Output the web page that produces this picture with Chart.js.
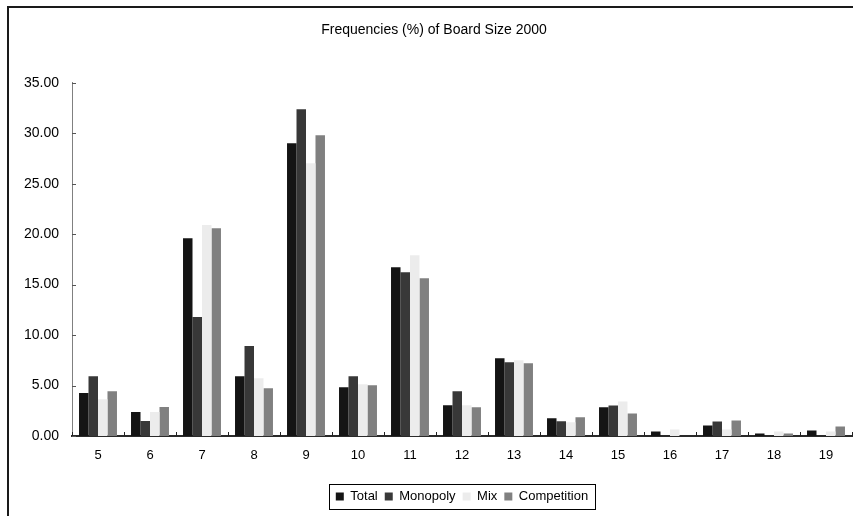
<!DOCTYPE html>
<html>
<head>
<meta charset="utf-8">
<title>Frequencies (%) of Board Size 2000</title>
<script src="https://cdn.jsdelivr.net/npm/chart.js@4/dist/chart.umd.min.js"></script>
<style>
  html, body { margin: 0; padding: 0; background: #ffffff; }
  #wrap { width: 854px; height: 516px; position: relative; }
</style>
</head>
<body>
<div id="wrap"><canvas id="chart" width="854" height="516"></canvas></div>
<script>
// Board sizes (number of directors) on the x axis
const boardSizes = ['5', '6', '7', '8', '9', '10', '11', '12', '13', '14', '15', '16', '17', '18', '19'];

// Frequencies in percent for each group
const totalValues       = [4.26, 2.38, 19.59, 5.92, 29.01, 4.83, 16.72, 3.04, 7.70, 1.75, 2.85, 0.45, 1.04, 0.25, 0.55];
const monopolyValues    = [5.92, 1.49, 11.79, 8.92, 32.38, 5.92, 16.22, 4.43, 7.30, 1.46, 3.02, 0.00, 1.44, 0.00, 0.00];
const mixValues         = [3.64, 2.38, 20.91, 5.72, 27.03, 5.12, 17.91, 3.04, 7.50, 1.36, 3.42, 0.64, 0.64, 0.45, 0.45];
const competitionValues = [4.43, 2.87, 20.58, 4.73, 29.81, 5.02, 15.63, 2.84, 7.20, 1.85, 2.23, 0.00, 1.54, 0.25, 0.94];

// Value-axis ticks
const yTickValues = [0, 5, 10, 15, 20, 25, 30, 35];

const FONT = "'Liberation Sans', Arial, sans-serif";

// Centre the legend under the plot area instead of the whole canvas
const legendUnderPlot = {
  id: 'legendUnderPlot',
  afterLayout(chart) {
    const lg = chart.legend;
    const area = chart.chartArea;
    const dx = Math.round((area.left + area.right) / 2 - (lg.left + lg.right) / 2);
    lg.left += dx;
    lg.right += dx;
  }
};

// Outer frame, inward tick marks and the boxed legend
const decorations = {
  id: 'decorations',
  afterDraw(chart) {
    const ctx = chart.ctx;
    const area = chart.chartArea;
    const x = chart.scales.x;
    const y = chart.scales.y;
    ctx.save();

    // frame: top and left edges
    ctx.strokeStyle = '#1a1a1a';
    ctx.lineWidth = 2;
    ctx.beginPath();
    ctx.moveTo(8, 516);
    ctx.lineTo(8, 7);
    ctx.lineTo(853, 7);
    ctx.stroke();

    // y ticks pointing into the plot
    ctx.strokeStyle = '#555555';
    ctx.lineWidth = 1;
    ctx.beginPath();
    yTickValues.forEach(v => {
      const py = Math.round(y.getPixelForValue(v)) + 0.5;
      ctx.moveTo(area.left, py);
      ctx.lineTo(area.left + 4, py);
    });
    ctx.stroke();

    // x ticks at category boundaries pointing up
    ctx.strokeStyle = '#222222';
    ctx.beginPath();
    const n = boardSizes.length;
    for (let i = 0; i <= n; i++) {
      const px = Math.round(x.getPixelForValue(i - 0.5)) + 0.5;
      ctx.moveTo(px, area.bottom);
      ctx.lineTo(px, area.bottom - 4);
    }
    ctx.stroke();

    // legend border
    const boxes = chart.legend.legendHitBoxes;
    if (boxes && boxes.length) {
      let l = Infinity, r = -Infinity, t = Infinity, b = -Infinity;
      boxes.forEach(h => {
        l = Math.min(l, h.left); r = Math.max(r, h.left + h.width);
        t = Math.min(t, h.top); b = Math.max(b, h.top + h.height);
      });
      ctx.strokeStyle = '#000000';
      ctx.lineWidth = 1;
      ctx.strokeRect(Math.round(l - 7) + 0.5, Math.round(t - 6) + 0.5,
                     Math.round(r - l + 14), Math.round(b - t + 12));
    }
    ctx.restore();
  }
};

const makeSet = (label, data, color) => ({
  label, data,
  backgroundColor: color,
  borderWidth: 0,
  categoryPercentage: 0.73,
  barPercentage: 1.0
});

new Chart(document.getElementById('chart'), {
  type: 'bar',
  data: {
    labels: boardSizes,
    datasets: [
      makeSet('Total', totalValues, '#141414'),
      makeSet('Monopoly', monopolyValues, '#383838'),
      makeSet('Mix', mixValues, '#ececec'),
      makeSet('Competition', competitionValues, '#808080')
    ]
  },
  options: {
    responsive: false,
    animation: false,
    devicePixelRatio: 1,
    layout: { padding: { left: 16, right: 2, top: 0, bottom: 3 } },
    plugins: {
      title: {
        display: true,
        text: 'Frequencies (%) of Board Size 2000',
        color: '#000000',
        font: { family: FONT, size: 14, weight: 'normal' },
        padding: { top: 22, bottom: 44 }
      },
      legend: {
        display: true,
        position: 'bottom',
        labels: {
          color: '#000000',
          font: { family: FONT, size: 13 },
          boxWidth: 8,
          boxHeight: 8,
          padding: 7
        }
      },
      tooltip: { enabled: false }
    },
    scales: {
      x: {
        grid: { display: false, drawTicks: false },
        border: { display: true, color: '#2a2a2a', width: 2 },
        ticks: { color: '#000000', font: { family: FONT, size: 13 }, padding: 12, maxRotation: 0 },
        afterFit(scale) { scale.height = 47; }
      },
      y: {
        min: 0,
        max: 35,
        grid: { display: false, drawTicks: false },
        border: { display: true, color: '#808080', width: 1 },
        ticks: {
          stepSize: 5,
          color: '#000000',
          font: { family: FONT, size: 14 },
          padding: 13,
          callback: v => Number(v).toFixed(2)
        },
        afterFit(scale) { scale.width = 56; }
      }
    }
  },
  plugins: [legendUnderPlot, decorations]
});
</script>
</body>
</html>
